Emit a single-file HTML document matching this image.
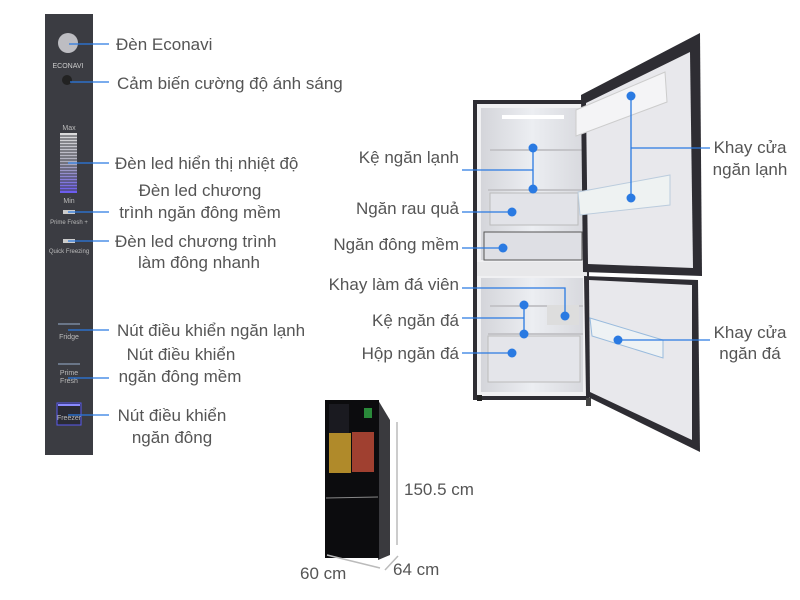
<!DOCTYPE html>
<html><head><meta charset="utf-8"><style>
html,body{margin:0;padding:0;background:#fff;}
svg{display:block}
text{font-family:"Liberation Sans",sans-serif;font-size:17px;fill:#555;}
.s{font-size:7px;fill:#bbb}
</style></head><body>
<svg width="800" height="600" viewBox="0 0 800 600" xmlns="http://www.w3.org/2000/svg">
<defs>
<linearGradient id="led" x1="0" y1="0" x2="0" y2="1"><stop offset="0" stop-color="#ddd"/><stop offset="0.5" stop-color="#aab"/><stop offset="1" stop-color="#6a5af0"/></linearGradient>
<linearGradient id="inner" x1="0" y1="0" x2="1" y2="0"><stop offset="0" stop-color="#d4d5da"/><stop offset="0.5" stop-color="#eceef2"/><stop offset="1" stop-color="#d8d9de"/></linearGradient>
</defs>
<!-- control panel -->
<rect x="45" y="14" width="48" height="441" fill="#3b3c42"/>
<circle cx="68" cy="43" r="10" fill="#bdbdc2"/>
<text x="68" y="68" text-anchor="middle" class="s" style="fill:#ccc">ECONAVI</text>
<circle cx="67" cy="80" r="5" fill="#222"/>
<text x="69" y="130" text-anchor="middle" class="s">Max</text>
<rect x="60" y="133" width="17" height="60" fill="url(#led)"/>
<g stroke="#3b3c42" stroke-width="1">
<line x1="60" y1="136" x2="77" y2="136"/><line x1="60" y1="139" x2="77" y2="139"/><line x1="60" y1="142" x2="77" y2="142"/><line x1="60" y1="145" x2="77" y2="145"/><line x1="60" y1="148" x2="77" y2="148"/><line x1="60" y1="151" x2="77" y2="151"/><line x1="60" y1="154" x2="77" y2="154"/><line x1="60" y1="157" x2="77" y2="157"/><line x1="60" y1="160" x2="77" y2="160"/><line x1="60" y1="163" x2="77" y2="163"/><line x1="60" y1="166" x2="77" y2="166"/><line x1="60" y1="169" x2="77" y2="169"/><line x1="60" y1="172" x2="77" y2="172"/><line x1="60" y1="175" x2="77" y2="175"/><line x1="60" y1="178" x2="77" y2="178"/><line x1="60" y1="181" x2="77" y2="181"/><line x1="60" y1="184" x2="77" y2="184"/><line x1="60" y1="187" x2="77" y2="187"/><line x1="60" y1="190" x2="77" y2="190"/>
</g>
<text x="69" y="203" text-anchor="middle" class="s">Min</text>
<rect x="63" y="210" width="12" height="4" fill="#ccc"/>
<text x="69" y="224" text-anchor="middle" class="s" style="font-size:6px">Prime Fresh +</text>
<rect x="63" y="239" width="12" height="4" fill="#ccc"/>
<text x="69" y="253" text-anchor="middle" class="s" style="font-size:6px">Quick Freezing</text>
<line x1="58" y1="324" x2="80" y2="324" stroke="#7a8aa0" stroke-width="1.5"/>
<text x="69" y="339" text-anchor="middle" class="s">Fridge</text>
<line x1="58" y1="364" x2="80" y2="364" stroke="#7a8aa0" stroke-width="1.5"/>
<text x="69" y="375" text-anchor="middle" class="s">Prime</text>
<text x="69" y="383" text-anchor="middle" class="s">Fresh</text>
<rect x="57" y="403" width="24" height="22" fill="#2a2b35" stroke="#5a5af0" stroke-width="1"/>
<line x1="58" y1="405" x2="80" y2="405" stroke="#8a8aff" stroke-width="2"/>
<text x="69" y="420" text-anchor="middle" class="s">Freezer</text>
<g stroke="#2a7ae2" stroke-width="1.3">
<line x1="69" y1="44" x2="109" y2="44"/><line x1="70" y1="82" x2="109" y2="82"/><line x1="68" y1="163" x2="109" y2="163"/>
<line x1="68" y1="212" x2="109" y2="212"/><line x1="68" y1="241" x2="109" y2="241"/><line x1="68" y1="330" x2="109" y2="330"/>
<line x1="68" y1="378" x2="109" y2="378"/><line x1="68" y1="415" x2="109" y2="415"/>
</g>
<text x="116" y="50">Đèn Econavi</text>
<text x="117" y="89">Cảm biến cường độ ánh sáng</text>
<text x="115" y="169">Đèn led hiển thị nhiệt độ</text>
<text x="200" y="196" text-anchor="middle">Đèn led chương</text>
<text x="200" y="218" text-anchor="middle">trình ngăn đông mềm</text>
<text x="115" y="247">Đèn led chương trình</text>
<text x="199" y="268" text-anchor="middle">làm đông nhanh</text>
<text x="117" y="336">Nút điều khiển ngăn lạnh</text>
<text x="181" y="360" text-anchor="middle">Nút điều khiển</text>
<text x="180" y="382" text-anchor="middle">ngăn đông mềm</text>
<text x="172" y="421" text-anchor="middle">Nút điều khiển</text>
<text x="172" y="443" text-anchor="middle">ngăn đông</text>
<!-- big fridge -->
<rect x="473" y="100" width="116" height="300" fill="#2e2d33"/>
<rect x="477" y="104" width="110" height="292" fill="#f0f0f2"/>
<rect x="481" y="108" width="102" height="152" fill="url(#inner)"/>
<rect x="481" y="278" width="102" height="114" fill="url(#inner)"/>
<rect x="477" y="262" width="110" height="14" fill="#e8e8ea"/>
<rect x="502" y="115" width="62" height="4" fill="#fff"/>
<g stroke="#c4c4c8" stroke-width="2" fill="none">
<line x1="490" y1="150" x2="583" y2="150"/><line x1="488" y1="190" x2="583" y2="190"/>
<line x1="490" y1="306" x2="583" y2="306"/><line x1="488" y1="334" x2="583" y2="334"/>
</g>
<rect x="490" y="193" width="88" height="32" fill="#e2e3e8" stroke="#bbb"/>
<rect x="484" y="232" width="98" height="28" fill="#dedfe4" stroke="#555"/>
<rect x="488" y="336" width="92" height="46" fill="#e4e5ea" stroke="#bbb"/>
<rect x="547" y="305" width="32" height="20" fill="#ddd"/>
<rect x="477" y="395" width="5" height="6" fill="#222"/><rect x="586" y="398" width="5" height="8" fill="#444"/>
<!-- upper door -->
<polygon points="581,95 700,33 702,276 583,272" fill="#2e2d33"/>
<polygon points="586,103 690,52 693,268 588,264" fill="#e8e8ec"/>
<polygon points="576,110 665,72 667,102 576,136" fill="#f4f4f6" stroke="#ccc"/>
<polygon points="578,192 670,175 670,205 580,215" fill="#eef2f2" stroke="#bcd"/>
<!-- lower door -->
<polygon points="584,276 698,280 700,452 586,396" fill="#2e2d33"/>
<polygon points="589,280 692,285 692,440 590,392" fill="#e8e8ec"/>
<polygon points="590,318 663,340 663,358 592,336" fill="#eef2f4" stroke="#9bd"/>
<g stroke="#2a7ae2" stroke-width="1.3" fill="none">
<polyline points="462,170 533,170"/><line x1="533" y1="148" x2="533" y2="189"/>
<line x1="462" y1="212" x2="512" y2="212"/><line x1="462" y1="248" x2="503" y2="248"/>
<polyline points="462,288 565,288 565,316"/>
<polyline points="462,318 524,318"/><line x1="524" y1="305" x2="524" y2="334"/>
<line x1="462" y1="353" x2="512" y2="353"/>
<line x1="631" y1="96" x2="631" y2="198"/><line x1="631" y1="148" x2="710" y2="148"/>
<line x1="618" y1="340" x2="710" y2="340"/>
</g>
<g fill="#2a7ae2">
<circle cx="533" cy="148" r="4.5"/><circle cx="533" cy="189" r="4.5"/><circle cx="512" cy="212" r="4.5"/><circle cx="503" cy="248" r="4.5"/>
<circle cx="565" cy="316" r="4.5"/><circle cx="524" cy="305" r="4.5"/><circle cx="524" cy="334" r="4.5"/><circle cx="512" cy="353" r="4.5"/>
<circle cx="631" cy="96" r="4.5"/><circle cx="631" cy="198" r="4.5"/><circle cx="618" cy="340" r="4.5"/>
</g>
<g text-anchor="end">
<text x="459" y="163">Kệ ngăn lạnh</text>
<text x="459" y="214">Ngăn rau quả</text>
<text x="459" y="250">Ngăn đông mềm</text>
<text x="459" y="290">Khay làm đá viên</text>
<text x="459" y="326">Kệ ngăn đá</text>
<text x="459" y="359">Hộp ngăn đá</text>
</g>
<g text-anchor="middle">
<text x="750" y="153">Khay cửa</text><text x="750" y="175">ngăn lạnh</text>
<text x="750" y="338">Khay cửa</text><text x="750" y="359">ngăn đá</text>
</g>
<!-- small fridge -->
<polygon points="378,400 390,420 390,555 378,560" fill="#3a3a3e"/>
<rect x="325" y="400" width="54" height="158" fill="#0c0c0e"/>
<rect x="329" y="404" width="20" height="60" fill="#1a1a20"/>
<rect x="329" y="433" width="22" height="40" fill="#b08a2a"/>
<rect x="352" y="432" width="22" height="40" fill="#a04030"/>
<rect x="364" y="408" width="8" height="10" fill="#2a8a3a"/>
<line x1="326" y1="498" x2="378" y2="497" stroke="#888" stroke-width="1"/>
<g stroke="#bbb" stroke-width="1.5" fill="#bbb">
<line x1="397" y1="422" x2="397" y2="545"/>
<line x1="327" y1="555" x2="380" y2="568"/>
<line x1="385" y1="570" x2="398" y2="556"/>
</g>
<text x="404" y="495">150.5 cm</text>
<text x="300" y="579">60 cm</text>
<text x="393" y="575">64 cm</text>
</svg>
</body></html>
